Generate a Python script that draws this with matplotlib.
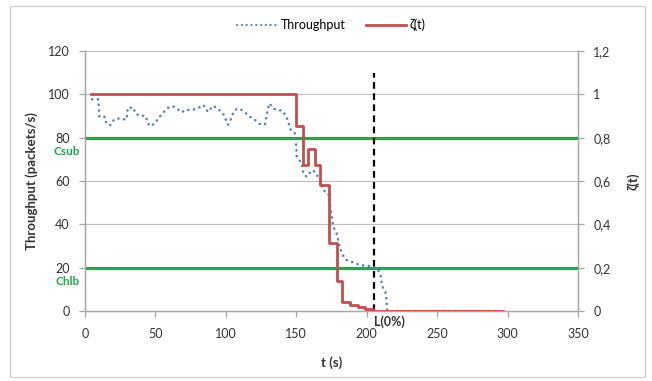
import numpy as np
import matplotlib.pyplot as plt
from matplotlib.lines import Line2D
from matplotlib.patches import Rectangle
from matplotlib.ticker import FuncFormatter

plt.rcParams['font.family'] = ['Lato', 'DejaVu Sans']

# measured throughput (packets/s) against time (s)
thr_t = [5, 9.4, 9.7, 10, 10.2, 14.2, 14.9, 17.7, 19.2, 22.5, 25.5, 29.6, 30.3,
         34.6, 35.5, 39, 43, 45.4, 49, 54.4, 58, 60.3, 63.4, 68.6, 71.5, 75.2,
         79.3, 84, 87.3, 90.8, 94.4, 98, 100, 101.5, 104, 105, 107.7, 111.2,
         114.3, 117.1, 120.7, 124.2, 127.7, 129.7, 130.8, 134.1, 137.2, 140.3,
         143.1, 144.3, 145.5, 146.7, 149, 149.5, 150, 150.3, 153.8, 155, 157.3,
         161, 163.2, 166.8, 169, 172.7, 176.2, 178.6, 180, 181, 183, 185.7, 189,
         193, 196.4, 200, 203.5, 208, 209.9, 210.6, 211.7, 213.6, 214, 214.3,
         214.5, 297]
thr_v = [97.7, 97.7, 95, 92.7, 89.6, 89.6, 87, 85.7, 87.5, 89, 88.5, 88.5, 93.8,
         93.8, 91.2, 90.1, 90.1, 85.5, 86.2, 90.8, 93.3, 94.3, 94.3, 91.7, 92.8,
         92.8, 93.3, 95.1, 91.9, 94.7, 93.3, 91.2, 88.2, 86, 89, 91.2, 93.3, 92.8,
         91.2, 89.6, 88.2, 86.2, 86.2, 92.8, 95.8, 93.3, 92.8, 92.4, 89.6, 87.4,
         84.4, 82.9, 82, 79, 75.8, 71.2, 68.2, 63.5, 62, 65, 64.3, 60.5, 55.8,
         54.3, 38.9, 35.8, 32, 28.9, 25.8, 23.5, 22.8, 21.7, 21.2, 20.8, 20.8, 19,
         16.6, 12.8, 10.5, 8.2, 5, 2, 0, 0]

# zeta(t), piecewise constant (value holds until the next time)
zeta_t = [4, 149.5, 154.5, 158, 163, 167, 173.5, 179, 182.5, 188, 194, 199, 204.5, 297]
zeta_v = [1, 0.854, 0.674, 0.75, 0.674, 0.58, 0.312, 0.14, 0.043, 0.028, 0.017, 0.008, 0, 0]

c_sub = 80
c_hlb = 20
t_loss = 205

blue = '#4F81BD'
red = '#C0504D'
green = '#22A84A'
grey = '#A6A6A6'
txt = '#333333'
dots = (0, (0.1, 2.2))

fig = plt.figure(figsize=(6.52, 3.81), dpi=100)
fig.patches.append(Rectangle((0.016, 0.01), 0.973, 0.975, transform=fig.transFigure,
                             fill=False, edgecolor='#D0D0D0', lw=1))

ax = fig.add_axes([0.1304, 0.1837, 0.7561, 0.6824])
ax2 = ax.twinx()

ax.set_xlim(0, 350)
ax.set_ylim(0, 120)
ax2.set_ylim(0, 1.2)

ax.set_xticks(np.arange(0, 351, 50))
ax.set_yticks(np.arange(0, 121, 20))
ax2.set_yticks(np.arange(0, 1.21, 0.2))
ax2.yaxis.set_major_formatter(FuncFormatter(lambda v, p: f'{v:g}'.replace('.', ',')))

for y in np.arange(20, 121, 20):
    ax.axhline(y, color='#BFBFBF', lw=0.8, zorder=0)

for a in (ax, ax2):
    for s in a.spines.values():
        s.set_color(grey)
        s.set_linewidth(0.9)
    a.spines['top'].set_visible(False)
    a.tick_params(colors=grey, labelcolor=txt, labelsize=9, length=4, width=0.9)
ax.tick_params(axis='y', pad=7)
ax.tick_params(axis='x', pad=8)
ax2.tick_params(axis='y', pad=7)

ax.axhline(c_sub, color=green, lw=2.3, zorder=3)
ax.axhline(c_hlb, color=green, lw=2.3, zorder=3)

ax.plot(thr_t, thr_v, color=blue, lw=1.8, linestyle=dots,
        dash_capstyle='round', zorder=4)
ax2.plot(zeta_t, zeta_v, color=red, lw=2, drawstyle='steps-post', zorder=5)

ax.plot([t_loss, t_loss], [0, 110], color='black', lw=1.6, linestyle=(0, (3, 2)), zorder=6)
ax.text(t_loss, -1.8, 'L(0%)', ha='left', va='top', fontsize=9, fontweight='bold',
        color=txt, clip_on=False)

ax.text(-3.5, 73.5, 'Csub', ha='right', va='center', fontsize=8.5,
        fontweight='bold', color=green, clip_on=False)
ax.text(-3.5, 13.5, 'Chlb', ha='right', va='center', fontsize=8.5,
        fontweight='bold', color=green, clip_on=False)

ax.set_xlabel('t (s)', fontsize=9.5, fontweight='bold', color=txt, labelpad=12)
ax.set_ylabel('Throughput (packets/s)', fontsize=9.5, fontweight='bold', color=txt, labelpad=7)
ax2.set_ylabel('ζ(t)', fontsize=9.5, fontweight='bold', color=txt, labelpad=12)

handles = [Line2D([], [], color=blue, lw=1.5, linestyle=dots, dash_capstyle='round'),
           Line2D([], [], color=red, lw=2)]
fig.legend(handles, ['Throughput', 'ζ(t)'], loc='center', bbox_to_anchor=(0.508, 0.934),
           ncol=2, frameon=False, fontsize=9, handlelength=3.2, columnspacing=1.6,
           handletextpad=0.3)

fig.savefig('out.png', dpi=100)
